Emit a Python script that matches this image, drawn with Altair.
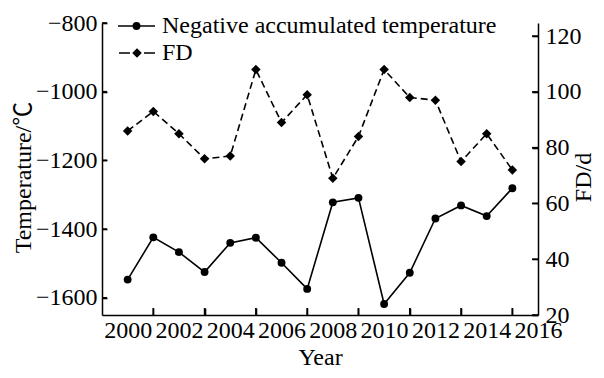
import altair as alt
import pandas as pd

# ---- data ----
years = list(range(2000, 2016))
neg_temp = [-1547, -1424, -1467, -1525, -1440, -1425, -1498, -1574,
            -1322, -1309, -1618, -1527, -1369, -1331, -1362, -1281]
fd_days = [86, 93, 85, 76, 77, 108, 89, 99, 69, 84, 108, 98, 97, 75, 85, 72]
x_label_years = [2000, 2002, 2004, 2006, 2008, 2010, 2012, 2014, 2016]
x_tick_years = [2001, 2003, 2005, 2007, 2009, 2011, 2013, 2015]
temp_ticks = [-1600, -1400, -1200, -1000, -800]
fd_ticks = [20, 40, 60, 80, 100, 120]
series_names = ["Negative accumulated temperature", "FD"]

W, H = 436, 292
FONT = "Liberation Serif"
TFONT = "Liberation Serif, Noto Sans CJK SC"

df = pd.DataFrame({"year": years, "temp": neg_temp, "fd": fd_days})

x_scale = alt.Scale(domain=[1999, 2016], nice=False, zero=False)
t_scale = alt.Scale(domain=[-1650, -800], nice=False, zero=False)
f_scale = alt.Scale(domain=[20, 124.7], nice=False, zero=False)

txt = dict(labelFont=FONT, labelFontSize=24, labelColor="black",
           titleFontSize=24, titleFontWeight="normal", titleColor="black",
           domainColor="black", domainWidth=1.5, grid=False)

# labelled axes
x_axis = alt.Axis(orient="bottom", values=x_label_years, format="d", title="Year",
                  ticks=False, labelFlush=False, labelOverlap=False, labelPadding=3.5,
                  titleY=49.7, titleBaseline="alphabetic", titleFont=FONT, **txt)
t_axis = alt.Axis(orient="left", values=temp_ticks, format="d",
                  title="Temperature/℃", ticks=False, labelPadding=5,
                  titleX=-72, titleY=154, titleAngle=270,
                  titleBaseline="alphabetic", titleAlign="center",
                  titleFont=TFONT, **txt)
f_axis = alt.Axis(orient="right", values=fd_ticks, format="d", title="FD/d",
                  ticks=False, labelPadding=7, titleX=52, titleY=154,
                  titleAngle=270, titleBaseline="alphabetic",
                  titleAlign="center", titleFont=FONT, **txt)

# tick-only axes pulled inside the plot (inward ticks)
tick_style = dict(labels=False, domain=False, title=None,
                  tickColor="black", tickWidth=1.6)
x_tick_axis = alt.Axis(orient="bottom", values=x_tick_years, offset=-7, tickSize=7, **tick_style)
t_tick_axis = alt.Axis(orient="left", values=temp_ticks, offset=-5, tickSize=5, **tick_style)
f_tick_axis = alt.Axis(orient="right", values=fd_ticks, offset=-6, tickSize=6, **tick_style)

base = alt.Chart(df)

temp_line = base.mark_line(color="black", strokeWidth=1.6).encode(
    x=alt.X("year:Q", scale=x_scale, axis=x_axis),
    y=alt.Y("temp:Q", scale=t_scale, axis=t_axis),
)
temp_pts = base.mark_point(filled=True, shape="circle", size=62,
                           color="black", opacity=1).encode(
    x=alt.X("year:Q", scale=x_scale, axis=None),
    y=alt.Y("temp:Q", scale=t_scale, axis=t_tick_axis),
)
fd_line = base.mark_line(color="black", strokeWidth=1.6, strokeDash=[7, 4]).encode(
    x=alt.X("year:Q", scale=x_scale, axis=x_tick_axis),
    y=alt.Y("fd:Q", scale=f_scale, axis=f_axis),
)
fd_pts = base.mark_point(filled=True, shape="diamond", size=90,
                         color="black", opacity=1).encode(
    x=alt.X("year:Q", scale=x_scale, axis=None),
    y=alt.Y("fd:Q", scale=f_scale, axis=f_tick_axis),
)

# the same inward ticks also drawn as plain marks
left_ticks = alt.Chart(pd.DataFrame({"v": temp_ticks})).mark_rule(
    color="black", strokeWidth=1.6).encode(
    y=alt.Y("v:Q", scale=t_scale, axis=None), x=alt.value(0), x2=alt.value(5))
right_ticks = alt.Chart(pd.DataFrame({"v": fd_ticks})).mark_rule(
    color="black", strokeWidth=1.6).encode(
    y=alt.Y("v:Q", scale=f_scale, axis=None), x=alt.value(W - 6), x2=alt.value(W))
bottom_ticks = alt.Chart(pd.DataFrame({"year": x_tick_years})).mark_rule(
    color="black", strokeWidth=1.6).encode(
    x=alt.X("year:Q", scale=x_scale, axis=None), y=alt.value(H), y2=alt.value(H - 7))

# ---- legend (drawn inside plot, top-left) ----
leg1 = pd.DataFrame({"label": [series_names[0]]})
leg2 = pd.DataFrame({"label": [series_names[1]]})
R1, R2 = 3, 30

leg1_line = alt.Chart(leg1).mark_rule(color="black", strokeWidth=1.6).encode(
    x=alt.value(16), x2=alt.value(53), y=alt.value(R1))
leg1_pt = alt.Chart(leg1).mark_point(filled=True, shape="circle", size=62,
                                     color="black", opacity=1).encode(
    x=alt.value(34.5), y=alt.value(R1))
leg1_txt = alt.Chart(leg1).mark_text(align="left", baseline="middle", font=FONT,
                                     fontSize=24, color="black").encode(
    x=alt.value(60), y=alt.value(R1), text="label:N")

leg2_line = alt.Chart(leg2).mark_rule(color="black", strokeWidth=1.6,
                                      strokeDash=[11, 14]).encode(
    x=alt.value(17), x2=alt.value(53), y=alt.value(R2))
leg2_pt = alt.Chart(leg2).mark_point(filled=True, shape="diamond", size=90,
                                     color="black", opacity=1).encode(
    x=alt.value(35), y=alt.value(R2))
leg2_txt = alt.Chart(leg2).mark_text(align="left", baseline="middle", font=FONT,
                                     fontSize=24, color="black").encode(
    x=alt.value(60), y=alt.value(R2), text="label:N")

chart = alt.layer(
    leg1_line, leg1_pt, leg1_txt, leg2_line, leg2_pt, leg2_txt,
    temp_line, temp_pts, fd_line, fd_pts,
    left_ticks, right_ticks, bottom_ticks,
).resolve_scale(x="independent", y="independent").properties(
    width=W, height=H,
    padding={"left": 94, "top": 15, "right": 58, "bottom": 55},
    autosize=alt.AutoSizeParams(type="none"),
).configure_view(stroke=None)

chart.save("out.html", embed_options={"renderer": "svg", "actions": False})
